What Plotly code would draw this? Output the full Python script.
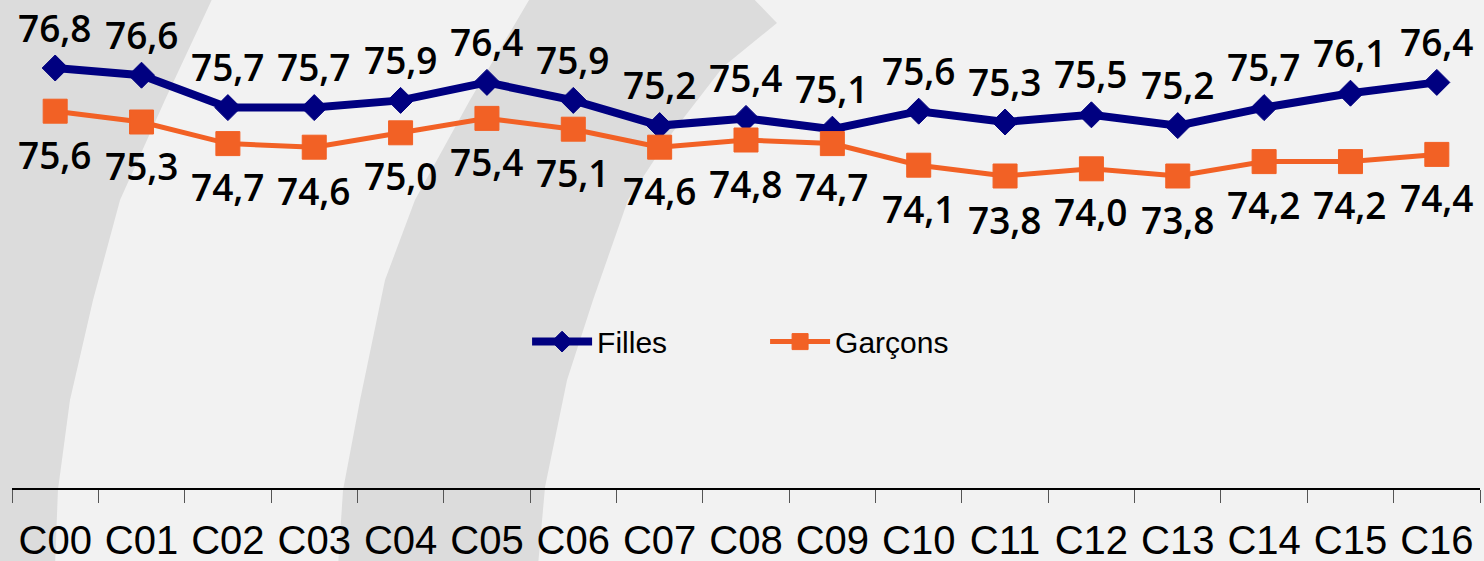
import plotly.graph_objects as go

categories = ["C00", "C01", "C02", "C03", "C04", "C05", "C06", "C07", "C08",
              "C09", "C10", "C11", "C12", "C13", "C14", "C15", "C16"]
filles = [76.8, 76.6, 75.7, 75.7, 75.9, 76.4, 75.9, 75.2, 75.4,
          75.1, 75.6, 75.3, 75.5, 75.2, 75.7, 76.1, 76.4]
garcons = [75.6, 75.3, 74.7, 74.6, 75.0, 75.4, 75.1, 74.6, 74.8,
           74.7, 74.1, 73.8, 74.0, 73.8, 74.2, 74.2, 74.4]

W, H = 1484, 561
ML, MR, MT, MB = 12, 4, 0, 73
PW, PH = W - ML - MR, H - MT - MB

NAVY = "#000080"
ORANGE = "#F26125"
BAND = "#dcdcdc"
BG = "#f2f2f2"


def px_to_paper(pts):
    out = []
    for x, y in pts:
        out.append(((x - ML) / PW, (H - MB - y) / PH))
    return out


def path(pts):
    pp = px_to_paper(pts)
    s = "M %.4f %.4f " % pp[0]
    for p in pp[1:]:
        s += "L %.4f %.4f " % p
    return s + "Z"


band1 = [(-20, -5), (214, -5), (165, 100), (120, 200), (93, 300), (70, 400),
         (58, 490), (55, 566), (-20, 566)]
band2 = [(532, -5), (470, 100), (415, 200), (385, 280), (360, 400), (343, 490),
         (338, 566), (538, 566), (545, 487), (567, 380), (593, 300), (628, 200),
         (672, 133), (723, 67), (777, 23), (750, -5)]

fig = go.Figure()

fig.add_trace(go.Scatter(
    x=categories, y=filles, name="Filles", mode="lines+markers",
    line=dict(color=NAVY, width=8),
    marker=dict(symbol="diamond", size=20, color=NAVY, line=dict(color=NAVY, width=1)),
))
fig.add_trace(go.Scatter(
    x=categories, y=garcons, name="Garçons", mode="lines+markers",
    line=dict(color=ORANGE, width=5),
    marker=dict(symbol="square", size=24, color=ORANGE, line=dict(color=ORANGE, width=1)),
))

label_font = dict(family="Open Sans", size=37, color="#000000", weight=600)
annotations = []
for c, v in zip(categories, filles):
    annotations.append(dict(x=c, y=v, text=("%.1f" % v).replace(".", ","),
                            showarrow=False, yshift=41, font=label_font,
                            xanchor="center", yanchor="middle", borderpad=0))
for c, v in zip(categories, garcons):
    annotations.append(dict(x=c, y=v, text=("%.1f" % v).replace(".", ","),
                            showarrow=False, yshift=-43, font=label_font,
                            xanchor="center", yanchor="middle", borderpad=0))

fig.update_layout(
    width=W, height=H,
    margin=dict(l=ML, r=MR, t=MT, b=MB, autoexpand=False),
    paper_bgcolor=BG, plot_bgcolor="rgba(0,0,0,0)",
    showlegend=True,
    legend=dict(orientation="h", x=0.513, xanchor="center", y=0.30, yanchor="middle",
                font=dict(family="Liberation Sans", size=30, color="#000000"),
                bgcolor="rgba(0,0,0,0)", entrywidth=163, entrywidthmode="pixels",
                itemwidth=60),
    shapes=[
        dict(type="path", path=path(band1), xref="paper", yref="paper",
             fillcolor=BAND, line=dict(width=0), layer="below"),
        dict(type="path", path=path(band2), xref="paper", yref="paper",
             fillcolor=BAND, line=dict(width=0), layer="below"),
    ],
    annotations=annotations,
    xaxis=dict(type="category", range=[-0.5, 16.5], showgrid=False, zeroline=False,
               automargin=False,
               showline=True, linecolor="#000000", linewidth=1.5,
               ticks="outside", ticklen=13, tickwidth=1.2, tickcolor="#555555",
               tickson="boundaries", ticklabelstandoff=16,
               tickfont=dict(family="Liberation Sans", size=40, color="#000000")),
    yaxis=dict(range=[65.133, 78.689], visible=False, showgrid=False, zeroline=False,
               automargin=False),
)

fig.write_html("out.html", config={"displayModeBar": False},
               post_script="document.body.style.margin='0';")
